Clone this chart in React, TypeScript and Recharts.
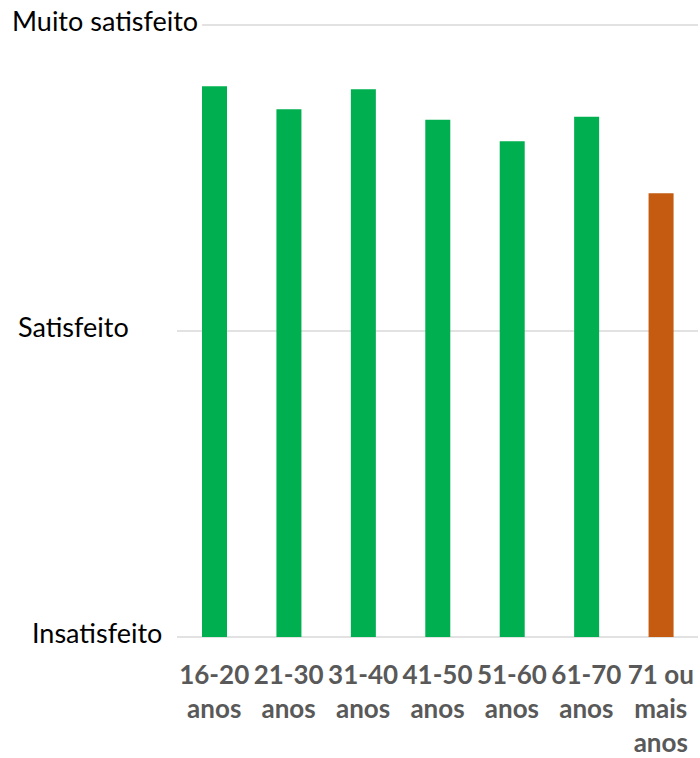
import React from "react";
import { BarChart, Bar, XAxis, YAxis, CartesianGrid, Cell } from "recharts";

const categories = [
  "16-20 anos",
  "21-30 anos",
  "31-40 anos",
  "41-50 anos",
  "51-60 anos",
  "61-70 anos",
  "71 ou mais anos",
];
const satisfaction = [2.8, 2.725, 2.79, 2.69, 2.62, 2.7, 2.45];
const barColors = ["#00B050", "#00B050", "#00B050", "#00B050", "#00B050", "#00B050", "#C55A11"];
const yTicks = [1, 2, 3];
const yTickLabels = ["Insatisfeito", "Satisfeito", "Muito satisfeito"];

const data = categories.map((c, i) => ({ name: c, value: satisfaction[i] }));

const FONT = "Lato, 'Open Sans', sans-serif";

const labelX: Record<number, number> = { 1: 32, 2: 18, 3: 12 };

function wrap(label: string, maxChars: number): string[] {
  const words = label.split(" ");
  const lines: string[] = [];
  let cur = "";
  for (const w of words) {
    const next = cur ? cur + " " + w : w;
    if (next.length > maxChars && cur) {
      lines.push(cur);
      cur = w;
    } else {
      cur = next;
    }
  }
  if (cur) lines.push(cur);
  return lines;
}

const XTick = (props: any) => {
  const { x, y, payload } = props;
  const lines = wrap(String(payload.value), 6);
  return (
    <text
      x={x}
      y={y}
      textAnchor="middle"
      fill="#595959"
      fontFamily={FONT}
      fontWeight="bold"
      fontSize={26}
    >
      {lines.map((l, i) => (
        <tspan key={i} x={x} dy={i === 0 ? 39 : 34}>
          {l}
        </tspan>
      ))}
    </text>
  );
};

const YTick = (props: any) => {
  const { y, payload } = props;
  const v = payload.value as number;
  const label = yTickLabels[yTicks.indexOf(v)];
  return (
    <text
      x={labelX[v]}
      y={y + 6}
      textAnchor="start"
      fill="#000000"
      fontFamily={FONT}
      fontSize={27}
      stroke="#ffffff"
      strokeWidth={10}
      paintOrder="stroke"
      strokeLinejoin="round"
    >
      {label}
    </text>
  );
};

export default function App() {
  return (
    <div style={{ position: "absolute", left: 0, top: 0, width: 700, height: 758, background: "#fff" }}>
      <BarChart
        width={700}
        height={758}
        data={data}
        margin={{ top: 25, right: 2, bottom: 11, left: 0 }}
        barCategoryGap={0}
      >
        <CartesianGrid vertical={false} stroke="#D9D9D9" strokeWidth={1.5} />
        <XAxis
          dataKey="name"
          axisLine={false}
          tickLine={false}
          interval={0}
          height={110}
          tick={<XTick />}
        />
        <YAxis
          domain={[1, 3]}
          ticks={yTicks}
          axisLine={false}
          tickLine={false}
          width={177}
          tick={<YTick />}
          interval={0}
        />
        <Bar dataKey="value" barSize={25} isAnimationActive={false}>
          {data.map((d, i) => (
            <Cell key={i} fill={barColors[i]} />
          ))}
        </Bar>
      </BarChart>
    </div>
  );
}
